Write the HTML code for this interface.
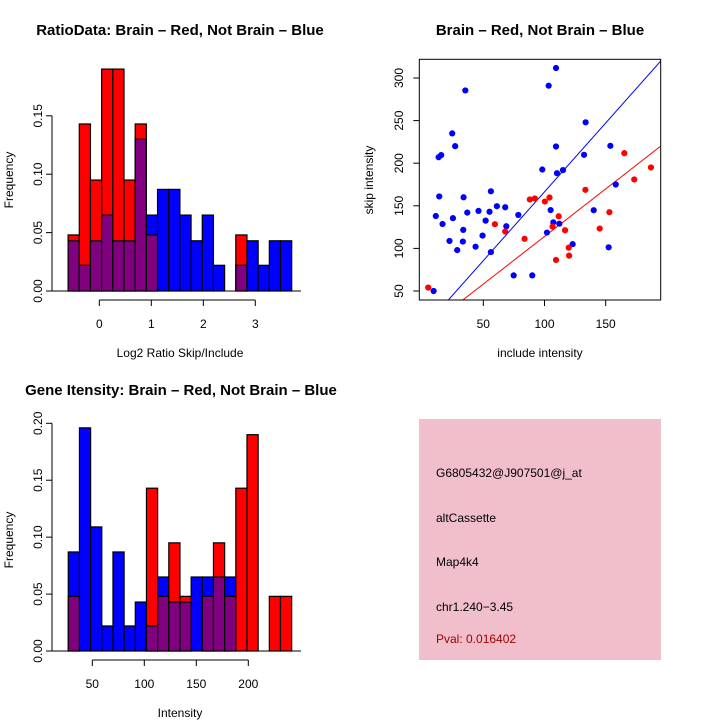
<!DOCTYPE html>
<html><head><meta charset="utf-8"><style>
html,body{margin:0;padding:0;background:#fff;}
svg{display:block;font-family:"Liberation Sans",sans-serif;}
</style></head><body>
<svg id="c" width="720" height="720" viewBox="0 0 720 720">
<rect width="720" height="720" fill="#fff"/>
<g id="p1"></g>
<g id="p2"></g>
<g id="p3"></g>
<g id="p4">
<rect x="419" y="419" width="242" height="241" fill="#f1bfcc"/>
<text x="436" y="477" font-size="12" fill="#000">G6805432@J907501@j_at</text>
<text x="436" y="522" font-size="12" fill="#000">altCassette</text>
<text x="436" y="566" font-size="12" fill="#000">Map4k4</text>
<text x="436" y="611" font-size="12" fill="#000">chr1.240−3.45</text>
<text x="436" y="643" font-size="12" fill="#a00000">Pval: 0.016402</text>
</g>
</svg>
<script>
// Panel 1 data: log2 ratio histogram
const ratioBreakStart = -0.6;
const ratioBinWidth = 0.215;
const ratioRed = [0.048,0.143,0.095,0.19,0.19,0.095,0.143,0.048,0,0,0,0,0,0,0,0.048,0,0,0,0];
const ratioBlue = [0.043,0.022,0.043,0.065,0.043,0.043,0.130,0.065,0.087,0.087,0.065,0.043,0.065,0.022,0,0.022,0.043,0.022,0.043,0.043];
const ratioXTicks = [0,1,2,3];
const ratioYTicks = ["0.00","0.05","0.10","0.15"];
// Panel 3 data: intensity histogram
const intBreakStart = 26.9;
const intBinWidth = 10.74;
const intBlue = [0.087,0.196,0.109,0.022,0.087,0.022,0.043,0.022,0.065,0.043,0.043,0.065,0.065,0.065,0.065,0,0,0,0,0];
const intRed = [0.048,0,0,0,0,0,0,0.143,0.048,0.095,0.048,0,0.048,0.095,0.048,0.143,0.19,0,0.048,0.048];
const intXTicks = [50,100,150,200];
const intYTicks = ["0.00","0.05","0.10","0.15","0.20"];
// Panel 2 data: scatter
const blueInclude = [9.4,11.2,14.0,13.5,15.6,16.7,22.4,24.6,25.2,27.0,28.7,33.3,33.6,33.9,35.3,36.9,43.7,46.1,49.4,51.9,55.1,56.2,56.2,61.1,67.9,68.8,74.8,78.6,90,98.2,102,103.4,105,107.2,109.4,109.4,110.2,112.1,115.1,123,132.3,133.6,140.2,152.4,153.8,158.2];
const blueSkip = [50,138,161,207,209.5,128.6,108.7,235,135.5,220,98,108,121.7,160,285.4,142,102,144,115,132.6,143,167,95.7,149.5,148.3,126,68.3,139.3,68.3,192.6,118.6,291,145,130.6,311.7,219.6,188.3,129,191.9,105,209.8,248,144.8,101.3,220.4,175];
const redInclude = [5,59.5,67.9,83.7,88,92.1,100.3,104.1,106.6,109.4,111.6,116.8,119.8,120.1,133.4,145.1,153,165.2,173.3,187];
const redSkip = [54,128.4,119.8,111.2,157.4,158.6,155,159.7,125.6,86.4,137.7,121.3,100.9,91.5,168.7,123.3,142.5,211.8,180.9,195];
const blueFit = [4.8,1.616];
const redFit = [2.3,1.117];
const scatXTicks = [50,100,150];
const scatYTicks = [50,100,150,200,250,300];

const NS="http://www.w3.org/2000/svg";
function el(parent,tag,attrs,text){const e=document.createElementNS(NS,tag);for(const k in attrs)e.setAttribute(k,attrs[k]);if(text!==undefined)e.textContent=text;parent.appendChild(e);return e;}

function histogram(g,red,blue,start,bw,sx,sy,base){
  for(let i=0;i<red.length;i++){
    const x0=sx(start+i*bw), x1=sx(start+(i+1)*bw);
    const r=red[i], b=blue[i];
    const hi=Math.max(r,b), lo=Math.min(r,b);
    if(hi>0){
      const e=el(g,'rect',{x:x0,y:sy(hi),width:x1-x0,height:base-sy(hi),fill:r>=b?'#ff0000':'#0000ff',stroke:'#000','stroke-width':1.2});
      
      
    }
    if(lo>0){
      const e=el(g,'rect',{x:x0,y:sy(lo),width:x1-x0,height:base-sy(lo),fill:'#800080',stroke:'#000','stroke-width':1.2});
      
      
    }
  }
}

// Panel 1
(function(){
  const g=document.getElementById('p1');
  const sx=v=>99.3+v*52, sy=v=>291-v*1168;
  histogram(g,ratioRed,ratioBlue,ratioBreakStart,ratioBinWidth,sx,sy,291);
  let e=el(g,'line',{x1:52,y1:291,x2:301,y2:291,stroke:'#000','stroke-width':1});
  
  e=el(g,'line',{x1:52,y1:sy(0),x2:52,y2:sy(0.15),stroke:'#000'});
  
  ratioYTicks.forEach(t=>{const y=sy(parseFloat(t));el(g,'line',{x1:46,y1:y,x2:52,y2:y,stroke:'#000'});
    const tx=el(g,'text',{x:42,y:y,'font-size':12,'text-anchor':'middle',transform:`rotate(-90 42 ${y})`},t);
    });
  e=el(g,'line',{x1:sx(ratioXTicks[0]),y1:300,x2:sx(ratioXTicks[ratioXTicks.length-1]),y2:300,stroke:'#000'});
  
  ratioXTicks.forEach(t=>{const x=sx(t);el(g,'line',{x1:x,y1:300,x2:x,y2:306,stroke:'#000'});
    const tx=el(g,'text',{x:x,y:328,'font-size':12,'text-anchor':'middle'},String(t));
    });
  e=el(g,'text',{x:180,y:35,'font-size':15,'font-weight':'bold','text-anchor':'middle'},'RatioData: Brain – Red, Not Brain – Blue');
  
  e=el(g,'text',{x:180,y:357,'font-size':12,'text-anchor':'middle'},'Log2 Ratio Skip/Include');
  
  e=el(g,'text',{x:13,y:180,'font-size':12,'text-anchor':'middle',transform:'rotate(-90 13 180)'},'Frequency');
  
})();

// Panel 2
(function(){
  const g=document.getElementById('p2');
  const sx=v=>422.1+v*1.224, sy=v=>333.6-v*0.852;
  const L=419.3,R=660.7,T=59.3,B=300;
  const cp=el(g,'clipPath',{id:'clip2'});
  el(cp,'rect',{x:L,y:T,width:R-L,height:B-T});
  const lg=el(g,'g',{'clip-path':'url(#clip2)'});
  [[blueFit,'#0000ff','blue-fit-line'],[redFit,'#ff0000','red-fit-line']].forEach(([f,c,n])=>{
    const e=el(lg,'line',{x1:sx(0),y1:sy(f[0]),x2:sx(200),y2:sy(f[0]+f[1]*200),stroke:c,'stroke-width':1});
    });
  blueInclude.forEach((v,i)=>{const e=el(lg,'circle',{cx:sx(v),cy:sy(blueSkip[i]),r:3.1,fill:'#0000ff'});
    });
  redInclude.forEach((v,i)=>{const e=el(lg,'circle',{cx:sx(v),cy:sy(redSkip[i]),r:3.1,fill:'#ff0000'});
    });
  let e=el(g,'rect',{x:L,y:T,width:R-L,height:B-T,fill:'none',stroke:'#000'});
  
  scatXTicks.forEach(t=>{const x=sx(t);el(g,'line',{x1:x,y1:B,x2:x,y2:B+6,stroke:'#000'});
    const tx=el(g,'text',{x:x,y:328,'font-size':12,'text-anchor':'middle'},String(t));
    });
  scatYTicks.forEach(t=>{const y=sy(t);el(g,'line',{x1:L-6,y1:y,x2:L,y2:y,stroke:'#000'});
    const tx=el(g,'text',{x:403,y:y,'font-size':12,'text-anchor':'middle',transform:`rotate(-90 403 ${y})`},String(t));
    });
  e=el(g,'text',{x:540,y:35,'font-size':15,'font-weight':'bold','text-anchor':'middle'},'Brain – Red, Not Brain – Blue');
  
  e=el(g,'text',{x:540,y:357,'font-size':12,'text-anchor':'middle'},'include intensity');
  
  e=el(g,'text',{x:373,y:180,'font-size':12,'text-anchor':'middle',transform:'rotate(-90 373 180)'},'skip intensity');
  
})();

// Panel 3
(function(){
  const g=document.getElementById('p3');
  const sx=v=>40.3+v*1.04, sy=v=>651-v*1138.5;
  histogram(g,intRed,intBlue,intBreakStart,intBinWidth,sx,sy,651);
  let e=el(g,'line',{x1:52,y1:651,x2:301,y2:651,stroke:'#000'});
  
  e=el(g,'line',{x1:52,y1:sy(0),x2:52,y2:sy(0.2),stroke:'#000'});
  
  intYTicks.forEach(t=>{const y=sy(parseFloat(t));el(g,'line',{x1:46,y1:y,x2:52,y2:y,stroke:'#000'});
    const tx=el(g,'text',{x:42,y:y,'font-size':12,'text-anchor':'middle',transform:`rotate(-90 42 ${y})`},t);
    });
  e=el(g,'line',{x1:sx(intXTicks[0]),y1:660,x2:sx(intXTicks[intXTicks.length-1]),y2:660,stroke:'#000'});
  
  intXTicks.forEach(t=>{const x=sx(t);el(g,'line',{x1:x,y1:660,x2:x,y2:666,stroke:'#000'});
    const tx=el(g,'text',{x:x,y:688,'font-size':12,'text-anchor':'middle'},String(t));
    });
  e=el(g,'text',{x:181,y:395,'font-size':15,'font-weight':'bold','text-anchor':'middle'},'Gene Itensity: Brain – Red, Not Brain – Blue');
  
  e=el(g,'text',{x:180,y:717,'font-size':12,'text-anchor':'middle'},'Intensity');
  
  e=el(g,'text',{x:13,y:540,'font-size':12,'text-anchor':'middle',transform:'rotate(-90 13 540)'},'Frequency');
  
})();
</script>
</body></html>
